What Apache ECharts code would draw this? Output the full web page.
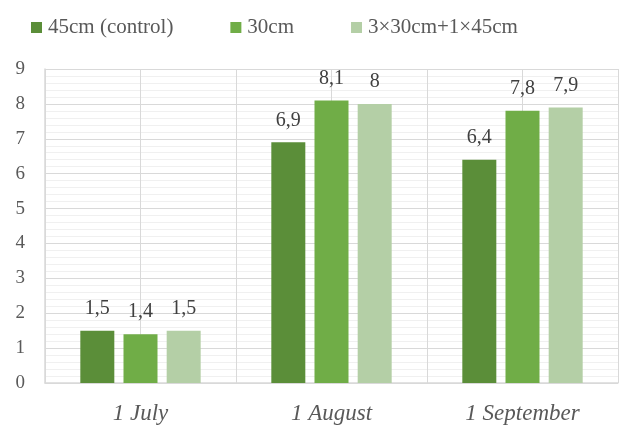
<!DOCTYPE html>
<html>
<head>
<meta charset="utf-8">
<script src="https://cdn.jsdelivr.net/npm/echarts@6.0.0/dist/echarts.min.js"></script>
<style>
  html, body { margin: 0; padding: 0; background: #fff; }
  #chart { width: 620px; height: 425px; }
</style>
</head>
<body>
<div id="chart"></div>
<script>
// data
const dates = ['1 July', '1 August', '1 September'];
const seriesNames = ['45cm (control)', '30cm', '3×30cm+1×45cm'];
const control45 = [1.5, 6.9, 6.4];
const spacing30 = [1.4, 8.1, 7.8];
const mixed = [1.5, 8, 7.9];
const colors = ['#5b8e39', '#70ad47', '#b4cfa6'];

const font = 'Liberation Serif';
const chart = echarts.init(document.getElementById('chart'));

const makeSeries = (name, values, i) => ({
  name: name,
  type: 'bar',
  data: values,
  barWidth: 34,
  barGap: '27%',
  itemStyle: { color: colors[i] },
  label: {
    show: true,
    position: 'top',
    distance: 12,
    fontFamily: font,
    fontSize: 20,
    color: '#404040',
    formatter: p => String(p.value).replace('.', ',')
  }
});

chart.setOption({
  animation: false,
  textStyle: { fontFamily: font },
  legend: {
    left: 31,
    top: 17,
    padding: 0,
    itemWidth: 11,
    itemHeight: 11,
    itemGap: 57,
    icon: 'rect',
    textStyle: { fontFamily: font, fontSize: 21, color: '#595959', padding: [0, 0, 0, 1] },
    data: seriesNames
  },
  grid: { left: 45, right: 2, top: 69, bottom: 38 },
  xAxis: [
    {
      type: 'category',
      data: dates,
      axisLine: { lineStyle: { color: '#d9d9d9', width: 1.5 } },
      axisTick: { show: false },
      splitLine: { show: false },
      axisLabel: {
        fontFamily: font,
        fontSize: 23,
        fontStyle: 'italic',
        color: '#595959',
        margin: 19
      }
    },
    {
      // half-category grid lines
      type: 'category',
      data: ['', '', '', '', '', ''],
      position: 'bottom',
      axisLine: { show: false },
      axisTick: { show: false },
      axisLabel: { show: false },
      splitLine: { show: true, lineStyle: { color: '#d9d9d9' } }
    }
  ],
  yAxis: {
    type: 'value',
    min: 0,
    max: 9,
    interval: 1,
    axisLine: { show: true, lineStyle: { color: '#d9d9d9', width: 1.5 } },
    axisTick: { show: false },
    axisLabel: { fontFamily: font, fontSize: 19, color: '#595959', margin: 20 },
    splitLine: { lineStyle: { color: '#d9d9d9' } },
    minorTick: { show: false, splitNumber: 5 },
    minorSplitLine: { show: true, lineStyle: { color: '#f0f0f0' } }
  },
  series: [
    makeSeries(seriesNames[0], control45, 0),
    makeSeries(seriesNames[1], spacing30, 1),
    makeSeries(seriesNames[2], mixed, 2)
  ]
});
</script>
</body>
</html>
